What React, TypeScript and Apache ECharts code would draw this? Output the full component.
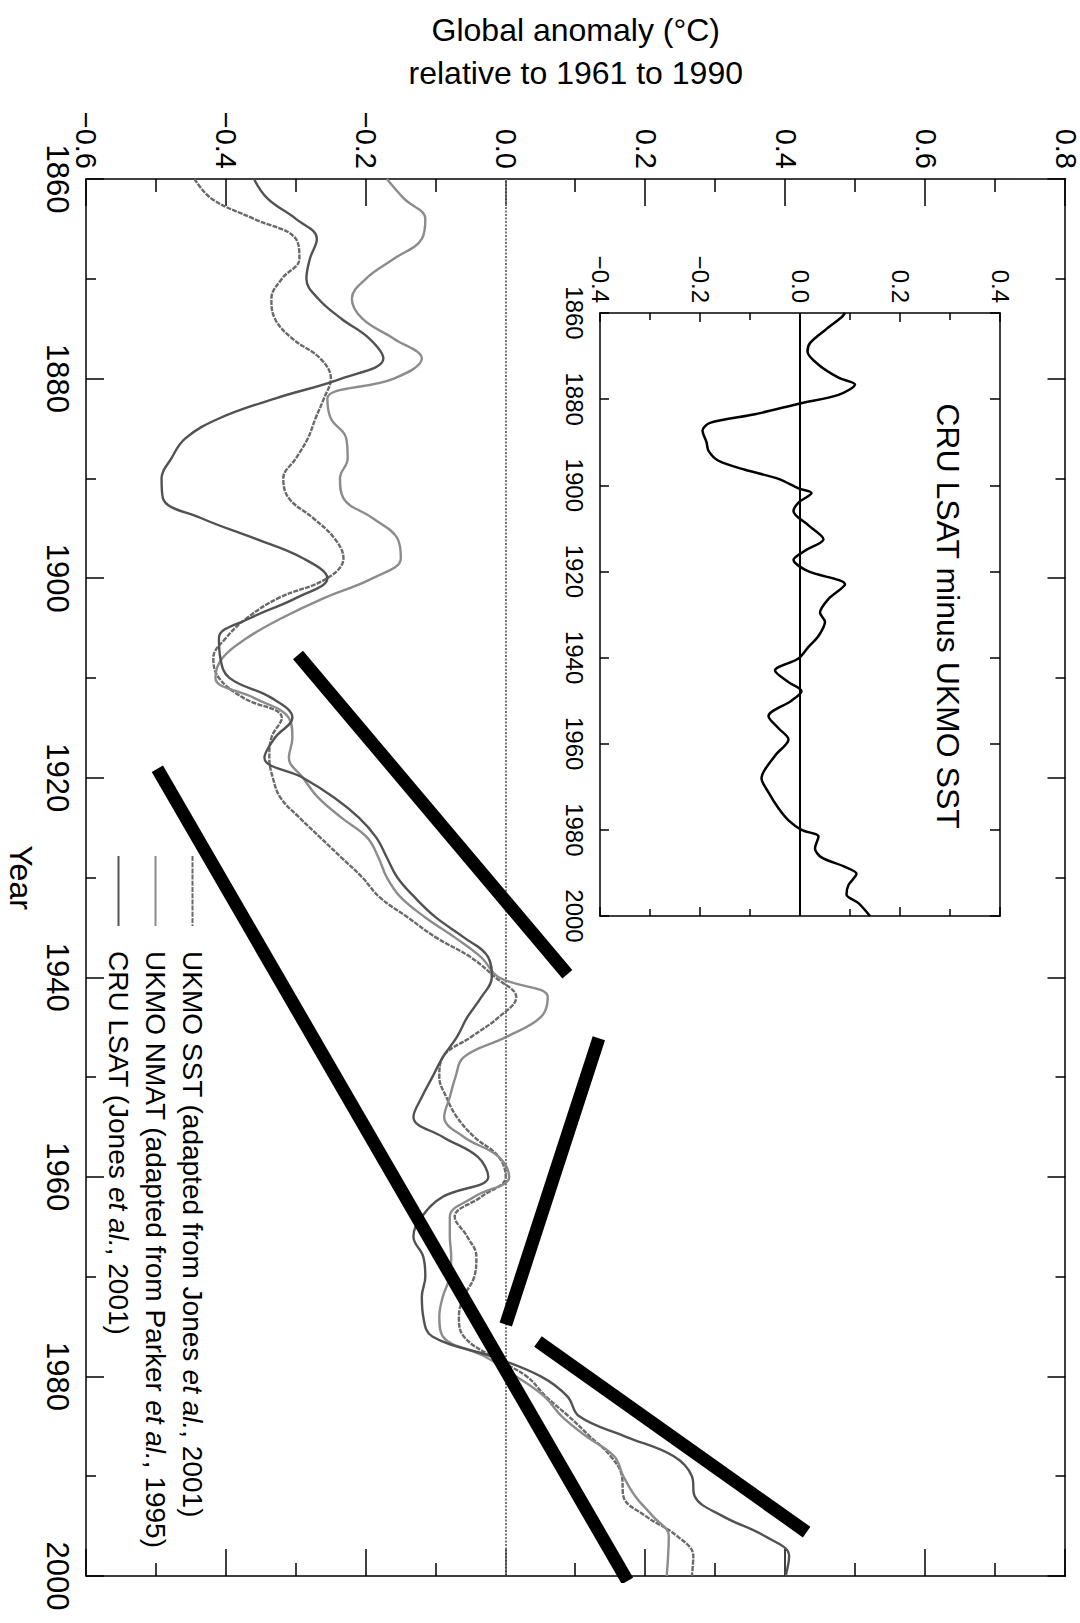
import React, { useEffect, useRef } from 'react';
import * as echarts from 'echarts';

const FONT = '"Liberation Sans", Arial, Helvetica, sans-serif';

// Decadal-smoothed global anomalies (°C, relative to 1961–1990), sampled every two years
const years = Array.from({ length: 71 }, (_, i) => 1860 + 2 * i);

const sstValues = [
  -0.445, -0.42, -0.36, -0.3, -0.295, -0.32, -0.335, -0.33, -0.305, -0.265,
  -0.25, -0.26, -0.272, -0.283, -0.3, -0.318, -0.31, -0.275, -0.245, -0.232,
  -0.255, -0.325, -0.37, -0.4, -0.418, -0.41, -0.375, -0.32, -0.335, -0.338,
  -0.333, -0.322, -0.295, -0.265, -0.235, -0.205, -0.18, -0.14, -0.1, -0.05,
  -0.015, 0.015, -0.01, -0.05, -0.09, -0.095, -0.085, -0.07, -0.045, -0.01,
  0.0, -0.035, -0.073, -0.055, -0.042, -0.045, -0.06, -0.067, -0.06, -0.02,
  0.03, 0.057, 0.09, 0.12, 0.15, 0.166, 0.168, 0.2, 0.245, 0.268, 0.266,
];

const nmatValues = [
  -0.17, -0.145, -0.115, -0.12, -0.16, -0.2, -0.22, -0.205, -0.16, -0.12,
  -0.16, -0.255, -0.25, -0.228, -0.226, -0.237, -0.232, -0.19, -0.155, -0.15,
  -0.19, -0.26, -0.32, -0.37, -0.405, -0.415, -0.36, -0.31, -0.305, -0.31,
  -0.29, -0.268, -0.235, -0.198, -0.182, -0.17, -0.15, -0.115, -0.073, -0.035,
  -0.01, 0.06, 0.05, 0.0, -0.06, -0.072, -0.08, -0.088, -0.06, -0.01,
  0.005, -0.045, -0.08, -0.08, -0.078, -0.08, -0.09, -0.095, -0.09, -0.03,
  0.015, 0.055, 0.08, 0.115, 0.155, 0.168, 0.185, 0.21, 0.233, 0.232, 0.23,
];

const lsatValues = [
  -0.36, -0.34, -0.3, -0.27, -0.28, -0.285, -0.268, -0.235, -0.195, -0.175,
  -0.235, -0.33, -0.41, -0.458, -0.478, -0.492, -0.49, -0.435, -0.36, -0.29,
  -0.255, -0.3, -0.365, -0.41, -0.408, -0.395, -0.335, -0.305, -0.33, -0.345,
  -0.29, -0.245, -0.21, -0.185, -0.17, -0.155, -0.13, -0.1, -0.06, -0.025,
  -0.02, -0.035, -0.055, -0.07, -0.09, -0.105, -0.12, -0.132, -0.09, -0.04,
  -0.025, -0.09, -0.12, -0.132, -0.118, -0.115, -0.12, -0.118, -0.105, -0.02,
  0.05, 0.088, 0.105, 0.17, 0.24, 0.266, 0.27, 0.31, 0.37, 0.405, 0.4,
];

// Land minus sea difference curve for the inset
const diffYears = [
  1860, 1861, 1864, 1867, 1869, 1872, 1875, 1876.6, 1879, 1881, 1883.5, 1885.5,
  1887.3, 1890, 1892, 1894.3, 1896.4, 1898.5, 1900.7, 1901.8, 1904, 1906, 1909.3,
  1912.5, 1915.2, 1917.3, 1920, 1923, 1926.4, 1929.6, 1931.7, 1935, 1937.5, 1940.2,
  1943, 1945.7, 1947.8, 1950, 1953.6, 1956.4, 1959, 1962.8, 1968, 1971.3, 1975,
  1977.8, 1980, 1981.6, 1984.3, 1986.4, 1988.6, 1990.2, 1992.8, 1995, 1997, 2000,
];
const diffValues = [
  0.09, 0.083, 0.05, 0.02, 0.015, 0.037, 0.077, 0.11, 0.077, 0.0, -0.09, -0.18,
  -0.195, -0.187, -0.183, -0.163, -0.11, -0.043, -0.003, 0.023, -0.003, -0.013, 0.017,
  0.047, 0.01, -0.013, 0.017, 0.09, 0.057, 0.04, 0.05, 0.037, 0.017, -0.003,
  -0.05, -0.023, 0.003, -0.017, -0.063, -0.043, -0.023, -0.05, -0.077, -0.063, -0.043,
  -0.023, 0.003, 0.037, 0.03, 0.043, 0.09, 0.113, 0.097, 0.093, 0.117, 0.14,
];

// Hand-drawn trend strokes, as [year, anomaly] end points
const strokeA = [[1907.7, -0.297], [1939.7, 0.088]];
const strokeB = [[1919.1, -0.498], [2000.5, 0.174]];
const strokeC = [[1946.1, 0.133], [1974.8, 0.0]];
const strokeD = [[1976.5, 0.046], [1995.6, 0.43]];

const yearAxis = { min: 1860, max: 2000, interval: 20 };
const anomalyAxis = { min: -0.6, max: 0.8, interval: 0.2 };
const insetAxis = { min: -0.4, max: 0.4, interval: 0.2 };

const SST_NAME = 'UKMO SST (adapted from Jones et al., 2001)';
const NMAT_NAME = 'UKMO NMAT (adapted from Parker et al., 1995)';
const LSAT_NAME = 'CRU LSAT (Jones et al., 2001)';

const pairs = (xs: number[], ys: number[]) => xs.map((x, i) => [x, ys[i]]);
const signed = (v: number) => (v < -1e-9 ? '\u2212' : '') + Math.abs(v).toFixed(1);
const plainYear = (v: number) => String(Math.round(v));

const black = { color: '#000', width: 1.5 };

function axisBase(extra: any) {
  return {
    type: 'value',
    axisLine: { show: true, onZero: false, lineStyle: black },
    splitLine: { show: false },
    ...extra,
  };
}

function buildOption() {
  const mainLine = (name: string, ys: number[], color: string, type: any) => ({
    name,
    type: 'line',
    xAxisIndex: 0,
    yAxisIndex: 0,
    data: pairs(years, ys),
    smooth: 0.4,
    symbol: 'none',
    color,
    lineStyle: { color, width: 2.4, type },
    silent: true,
    z: 3,
  });
  const stroke = (pts: number[][]) => ({
    type: 'line',
    xAxisIndex: 0,
    yAxisIndex: 0,
    data: pts,
    symbol: 'none',
    clip: false,
    silent: true,
    lineStyle: { color: '#000', width: 13, cap: 'butt' },
    z: 10,
  });

  return {
    animation: false,
    backgroundColor: '#fff',
    textStyle: { fontFamily: FONT, color: '#000' },
    grid: [
      { left: 177, right: 47, top: 12, bottom: 79 },
      { left: 313, width: 603, top: 80, height: 400 },
    ],
    xAxis: [
      axisBase({
        gridIndex: 0,
        position: 'bottom',
        ...yearAxis,
        name: 'Year',
        nameLocation: 'middle',
        nameGap: 49,
        nameTextStyle: { fontSize: 32, color: '#000', fontFamily: FONT },
        axisTick: { show: true, inside: true, length: 18, lineStyle: black },
        minorTick: { show: true, splitNumber: 2, length: 10, lineStyle: black },
        axisLabel: { fontSize: 31, margin: 13, color: '#000', fontFamily: FONT, formatter: plainYear },
      }),
      axisBase({
        gridIndex: 0,
        position: 'top',
        ...yearAxis,
        axisTick: { show: true, inside: true, length: 18, lineStyle: black },
        minorTick: { show: true, splitNumber: 2, length: 10, lineStyle: black },
        axisLabel: { show: false },
      }),
      axisBase({
        gridIndex: 1,
        position: 'bottom',
        ...yearAxis,
        axisTick: { show: true, inside: true, length: 9, lineStyle: black },
        axisLabel: { fontSize: 24, margin: 14, color: '#000', fontFamily: FONT, formatter: plainYear },
      }),
      axisBase({
        gridIndex: 1,
        position: 'top',
        ...yearAxis,
        axisTick: { show: true, inside: true, length: 10, lineStyle: black },
        axisLabel: { show: false },
      }),
    ],
    yAxis: [
      axisBase({
        gridIndex: 0,
        position: 'left',
        ...anomalyAxis,
        name: 'Global anomaly (°C)\nrelative to 1961 to 1990',
        nameLocation: 'middle',
        nameGap: 85,
        nameTextStyle: { fontSize: 32, lineHeight: 43, color: '#000', fontFamily: FONT },
        axisTick: { show: true, inside: true, length: 27, lineStyle: black },
        minorTick: { show: true, splitNumber: 2, length: 13, lineStyle: black },
        axisLabel: {
          fontSize: 29,
          margin: 10,
          color: '#000',
          fontFamily: FONT,
          showMinLabel: true,
          showMaxLabel: true,
          formatter: signed,
        },
      }),
      axisBase({
        gridIndex: 0,
        position: 'right',
        ...anomalyAxis,
        axisTick: { show: true, inside: true, length: 27, lineStyle: black },
        minorTick: { show: true, splitNumber: 2, length: 13, lineStyle: black },
        axisLabel: { show: false },
      }),
      axisBase({
        gridIndex: 1,
        position: 'left',
        ...insetAxis,
        axisTick: { show: true, inside: true, length: 9, lineStyle: black },
        minorTick: { show: true, splitNumber: 2, length: 7, lineStyle: black },
        axisLabel: {
          fontSize: 24,
          margin: 10,
          color: '#000',
          fontFamily: FONT,
          showMinLabel: true,
          showMaxLabel: true,
          formatter: signed,
        },
      }),
      axisBase({
        gridIndex: 1,
        position: 'right',
        ...insetAxis,
        axisTick: { show: true, inside: true, length: 9, lineStyle: black },
        minorTick: { show: true, splitNumber: 2, length: 7, lineStyle: black },
        axisLabel: { show: false },
      }),
    ],
    legend: {
      data: [SST_NAME, NMAT_NAME, LSAT_NAME],
      orient: 'vertical',
      left: 850,
      top: 864,
      itemWidth: 70,
      itemHeight: 14,
      itemGap: 0,
      selectedMode: false,
      itemStyle: { opacity: 0 },
      formatter: (name: string) => name.replace('et al.', '{i|et al.}'),
      textStyle: {
        fontSize: 28,
        lineHeight: 37,
        color: '#000',
        fontFamily: FONT,
        padding: [0, 0, 0, 20],
        rich: { i: { fontStyle: 'italic', fontSize: 28, fontFamily: FONT, color: '#000' } },
      },
    },
    graphic: [
      {
        type: 'text',
        x: 616,
        y: 132,
        silent: true,
        style: {
          text: 'CRU LSAT minus UKMO SST',
          fontSize: 32,
          fontFamily: FONT,
          fill: '#000',
          align: 'center',
          verticalAlign: 'middle',
        },
      },
    ],
    series: [
      {
        ...mainLine(SST_NAME, sstValues, '#6a6a6a', [5, 1.2]),
        markLine: {
          silent: true,
          symbol: 'none',
          label: { show: false },
          lineStyle: { color: '#777', type: [2, 1.5], width: 2 },
          data: [{ yAxis: 0 }],
        },
      },
      mainLine(NMAT_NAME, nmatValues, '#8c8c8c', 'solid'),
      mainLine(LSAT_NAME, lsatValues, '#525252', 'solid'),
      {
        type: 'line',
        xAxisIndex: 2,
        yAxisIndex: 2,
        data: pairs(diffYears, diffValues),
        smooth: 0.3,
        symbol: 'none',
        silent: true,
        lineStyle: { color: '#000', width: 2.5 },
        markLine: {
          silent: true,
          symbol: 'none',
          label: { show: false },
          lineStyle: { color: '#000', type: 'solid', width: 2 },
          data: [{ yAxis: 0 }],
        },
      },
      stroke(strokeA),
      stroke(strokeB),
      stroke(strokeC),
      stroke(strokeD),
    ],
  };
}

export default function App() {
  const ref = useRef<HTMLDivElement>(null);

  useEffect(() => {
    if (!ref.current) return;
    const chart = echarts.init(ref.current, undefined, { renderer: 'svg' });
    chart.setOption(buildOption() as any);
    return () => chart.dispose();
  }, []);

  // The chart is laid out landscape and turned a quarter-turn clockwise onto the page.
  return (
    <div
      style={{
        position: 'absolute',
        left: 0,
        top: 0,
        width: 1080,
        height: 1623,
        overflow: 'hidden',
        background: '#fff',
      }}
    >
      <div
        ref={ref}
        style={{
          position: 'absolute',
          left: 0,
          top: 0,
          width: 1623,
          height: 1080,
          transformOrigin: '0 0',
          transform: 'translateX(1080px) rotate(90deg)',
        }}
      />
    </div>
  );
}
